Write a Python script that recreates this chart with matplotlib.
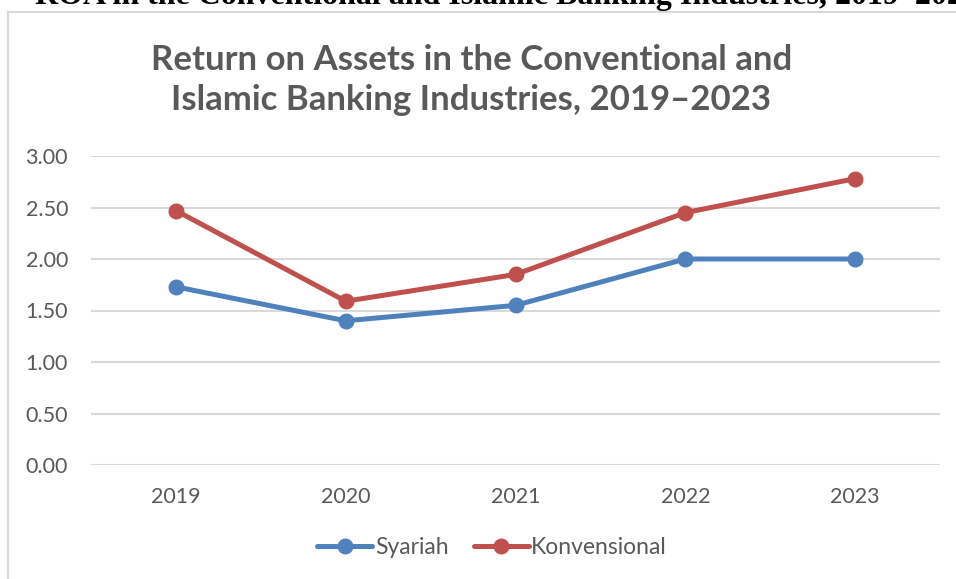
import matplotlib
matplotlib.use("Agg")
import matplotlib.pyplot as plt
from matplotlib.lines import Line2D

years = ["2019", "2020", "2021", "2022", "2023"]
syariah = [1.73, 1.40, 1.55, 2.00, 2.00]
konvensional = [2.47, 1.59, 1.85, 2.45, 2.78]
yticks = [0.0, 0.5, 1.0, 1.5, 2.0, 2.5, 3.0]

BLUE = "#4F81BD"
RED = "#C0504D"
GRAY = "#595959"
FONT = ["Lato", "DejaVu Sans"]

fig = plt.figure(figsize=(9.56, 5.79), dpi=100)
fig.patch.set_facecolor("white")

# frame of the embedded chart (left and top edges visible)
fig.add_artist(Line2D([8/956, 8/956], [0, 1 - 12/579], transform=fig.transFigure, color="#D9D9D9", lw=1.5))
fig.add_artist(Line2D([8/956, 1], [1 - 12/579, 1 - 12/579], transform=fig.transFigure, color="#D9D9D9", lw=1.5))

# cropped document caption at the very top
fig.text(35/956, 1 - 4/579, "ROA in the Conventional and Islamic Banking Industries, 2019\u20132023",
         family="Liberation Serif", weight="bold", fontsize=23, color="black", va="baseline", ha="left")

ax = fig.add_axes([91/956, (579-465)/579, 849/956, 309/579])
x = list(range(len(years)))
ax.plot(x, syariah, color=BLUE, lw=3.6, marker="o", ms=10.5, label="Syariah", solid_capstyle="round")
ax.plot(x, konvensional, color=RED, lw=3.6, marker="o", ms=10.5, label="Konvensional", solid_capstyle="round")

ax.set_xlim(-0.5, len(years) - 0.5)
ax.set_ylim(0, 3.0)
ax.set_yticks(yticks)
ax.set_yticklabels([f"{v:.2f}" for v in yticks])
ax.set_xticks(x)
ax.set_xticklabels(years)
ax.grid(axis="y", color="#D9D9D9", lw=1.5)
ax.set_axisbelow(True)
for s in ax.spines.values():
    s.set_visible(False)
ax.tick_params(axis="both", length=0, labelsize=15.5, labelcolor=GRAY)
ax.tick_params(axis="y", pad=16.5)
ax.tick_params(axis="x", pad=16)
for lbl in ax.get_xticklabels() + ax.get_yticklabels():
    lbl.set_family(FONT)

fig.text(0.493, 1 - 80/579, "Return on Assets in the Conventional and\nIslamic Banking Industries, 2019\u20132023",
         family=FONT, weight="bold", fontsize=25, color=GRAY, ha="center", va="center", linespacing=1.3)

leg = fig.legend(loc="center", bbox_to_anchor=(492/956, 1 - 548/579), ncol=2, frameon=False,
                 prop={"family": FONT, "size": 16.5}, handlelength=2.4, handletextpad=0.1, columnspacing=1.1)
for t in leg.get_texts():
    t.set_color(GRAY)

fig.savefig("out.png", dpi=100)
